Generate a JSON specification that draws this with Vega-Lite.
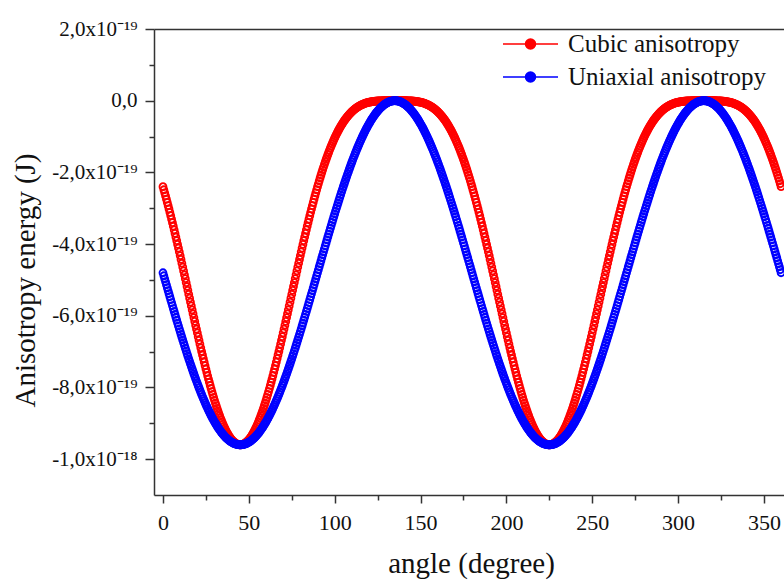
{
"$schema":"https://vega.github.io/schema/vega-lite/v6.json",
"width":630,"height":466,
"autosize":{"type":"none"},
"padding":{"left":154,"top":29,"right":0,"bottom":86},
"background":"white",
"config":{"view":{"stroke":null},"font":"Liberation Serif",
"axis":{"domainColor":"#333","tickColor":"#333","domainWidth":1.5,"tickWidth":1.5,"grid":false,"labelColor":"#111","titleColor":"#111","labelFont":"Liberation Serif","titleFont":"Liberation Serif","titleFontWeight":"normal"}},
"data":{"values":[
{"a":0,"c":-2.4e-19,"u":-4.8e-19},{"a":1,"c":-2.570e-19,"u":-4.968e-19},{"a":2,"c":-2.747e-19,"u":-5.135e-19},{"a":3,"c":-2.928e-19,"u":-5.302e-19},{"a":4,"c":-3.115e-19,"u":-5.468e-19},{"a":5,"c":-3.306e-19,"u":-5.633e-19},{"a":6,"c":-3.502e-19,"u":-5.798e-19},{"a":7,"c":-3.702e-19,"u":-5.961e-19},{"a":8,"c":-3.905e-19,"u":-6.123e-19},{"a":9,"c":-4.112e-19,"u":-6.283e-19},
{"a":10,"c":-4.322e-19,"u":-6.442e-19},{"a":11,"c":-4.535e-19,"u":-6.598e-19},{"a":12,"c":-4.749e-19,"u":-6.752e-19},{"a":13,"c":-4.966e-19,"u":-6.904e-19},{"a":14,"c":-5.183e-19,"u":-7.054e-19},{"a":15,"c":-5.4e-19,"u":-7.2e-19},{"a":16,"c":-5.617e-19,"u":-7.344e-19},{"a":17,"c":-5.835e-19,"u":-7.484e-19},{"a":18,"c":-6.051e-19,"u":-7.621e-19},{"a":19,"c":-6.265e-19,"u":-7.755e-19},
{"a":20,"c":-6.477e-19,"u":-7.885e-19},{"a":21,"c":-6.686e-19,"u":-8.012e-19},{"a":22,"c":-6.893e-19,"u":-8.135e-19},{"a":23,"c":-7.094e-19,"u":-8.253e-19},{"a":24,"c":-7.292e-19,"u":-8.367e-19},{"a":25,"c":-7.485e-19,"u":-8.477e-19},{"a":26,"c":-7.673e-19,"u":-8.582e-19},{"a":27,"c":-7.854e-19,"u":-8.683e-19},{"a":28,"c":-8.029e-19,"u":-8.779e-19},{"a":29,"c":-8.196e-19,"u":-8.870e-19},
{"a":30,"c":-8.357e-19,"u":-8.957e-19},{"a":31,"c":-8.509e-19,"u":-9.038e-19},{"a":32,"c":-8.653e-19,"u":-9.114e-19},{"a":33,"c":-8.788e-19,"u":-9.185e-19},{"a":34,"c":-8.914e-19,"u":-9.251e-19},{"a":35,"c":-9.030e-19,"u":-9.311e-19},{"a":36,"c":-9.136e-19,"u":-9.365e-19},{"a":37,"c":-9.232e-19,"u":-9.414e-19},{"a":38,"c":-9.317e-19,"u":-9.457e-19},{"a":39,"c":-9.391e-19,"u":-9.495e-19},
{"a":40,"c":-9.455e-19,"u":-9.527e-19},{"a":41,"c":-9.507e-19,"u":-9.553e-19},{"a":42,"c":-9.547e-19,"u":-9.574e-19},{"a":43,"c":-9.577e-19,"u":-9.588e-19},{"a":44,"c":-9.594e-19,"u":-9.597e-19},{"a":45,"c":-9.6e-19,"u":-9.6e-19},{"a":46,"c":-9.594e-19,"u":-9.597e-19},{"a":47,"c":-9.577e-19,"u":-9.588e-19},{"a":48,"c":-9.547e-19,"u":-9.574e-19},{"a":49,"c":-9.507e-19,"u":-9.553e-19},
{"a":50,"c":-9.455e-19,"u":-9.527e-19},{"a":51,"c":-9.391e-19,"u":-9.495e-19},{"a":52,"c":-9.317e-19,"u":-9.457e-19},{"a":53,"c":-9.232e-19,"u":-9.414e-19},{"a":54,"c":-9.136e-19,"u":-9.365e-19},{"a":55,"c":-9.030e-19,"u":-9.311e-19},{"a":56,"c":-8.914e-19,"u":-9.251e-19},{"a":57,"c":-8.788e-19,"u":-9.185e-19},{"a":58,"c":-8.653e-19,"u":-9.114e-19},{"a":59,"c":-8.509e-19,"u":-9.038e-19},
{"a":60,"c":-8.357e-19,"u":-8.957e-19},{"a":61,"c":-8.196e-19,"u":-8.870e-19},{"a":62,"c":-8.029e-19,"u":-8.779e-19},{"a":63,"c":-7.854e-19,"u":-8.683e-19},{"a":64,"c":-7.673e-19,"u":-8.582e-19},{"a":65,"c":-7.485e-19,"u":-8.477e-19},{"a":66,"c":-7.292e-19,"u":-8.367e-19},{"a":67,"c":-7.094e-19,"u":-8.253e-19},{"a":68,"c":-6.893e-19,"u":-8.135e-19},{"a":69,"c":-6.686e-19,"u":-8.012e-19},
{"a":70,"c":-6.477e-19,"u":-7.885e-19},{"a":71,"c":-6.265e-19,"u":-7.755e-19},{"a":72,"c":-6.051e-19,"u":-7.621e-19},{"a":73,"c":-5.835e-19,"u":-7.484e-19},{"a":74,"c":-5.617e-19,"u":-7.344e-19},{"a":75,"c":-5.4e-19,"u":-7.2e-19},{"a":76,"c":-5.183e-19,"u":-7.054e-19},{"a":77,"c":-4.966e-19,"u":-6.904e-19},{"a":78,"c":-4.749e-19,"u":-6.752e-19},{"a":79,"c":-4.535e-19,"u":-6.598e-19},
{"a":80,"c":-4.322e-19,"u":-6.442e-19},{"a":81,"c":-4.112e-19,"u":-6.283e-19},{"a":82,"c":-3.905e-19,"u":-6.123e-19},{"a":83,"c":-3.702e-19,"u":-5.961e-19},{"a":84,"c":-3.502e-19,"u":-5.798e-19},{"a":85,"c":-3.306e-19,"u":-5.633e-19},{"a":86,"c":-3.115e-19,"u":-5.468e-19},{"a":87,"c":-2.928e-19,"u":-5.302e-19},{"a":88,"c":-2.747e-19,"u":-5.135e-19},{"a":89,"c":-2.570e-19,"u":-4.968e-19},
{"a":90,"c":-2.4e-19,"u":-4.8e-19},{"a":91,"c":-2.235e-19,"u":-4.632e-19},{"a":92,"c":-2.077e-19,"u":-4.465e-19},{"a":93,"c":-1.925e-19,"u":-4.298e-19},{"a":94,"c":-1.778e-19,"u":-4.132e-19},{"a":95,"c":-1.639e-19,"u":-3.967e-19},{"a":96,"c":-1.506e-19,"u":-3.802e-19},{"a":97,"c":-1.379e-19,"u":-3.639e-19},{"a":98,"c":-1.259e-19,"u":-3.477e-19},{"a":99,"c":-1.146e-19,"u":-3.317e-19},
{"a":100,"c":-1.039e-19,"u":-3.158e-19},{"a":101,"c":-0.939e-19,"u":-3.002e-19},{"a":102,"c":-0.845e-19,"u":-2.848e-19},{"a":103,"c":-0.757e-19,"u":-2.696e-19},{"a":104,"c":-0.675e-19,"u":-2.546e-19},{"a":105,"c":-0.6e-19,"u":-2.4e-19},{"a":106,"c":-0.530e-19,"u":-2.256e-19},{"a":107,"c":-0.466e-19,"u":-2.116e-19},{"a":108,"c":-0.408e-19,"u":-1.979e-19},{"a":109,"c":-0.354e-19,"u":-1.845e-19},
{"a":110,"c":-0.306e-19,"u":-1.715e-19},{"a":111,"c":-0.263e-19,"u":-1.588e-19},{"a":112,"c":-0.224e-19,"u":-1.465e-19},{"a":113,"c":-0.189e-19,"u":-1.347e-19},{"a":114,"c":-0.158e-19,"u":-1.233e-19},{"a":115,"c":-0.131e-19,"u":-1.123e-19},{"a":116,"c":-0.108e-19,"u":-1.018e-19},{"a":117,"c":-0.088e-19,"u":-0.917e-19},{"a":118,"c":-0.070e-19,"u":-0.821e-19},{"a":119,"c":-0.056e-19,"u":-0.730e-19},
{"a":120,"c":-0.043e-19,"u":-0.643e-19},{"a":121,"c":-0.033e-19,"u":-0.562e-19},{"a":122,"c":-0.025e-19,"u":-0.486e-19},{"a":123,"c":-0.018e-19,"u":-0.415e-19},{"a":124,"c":-0.013e-19,"u":-0.349e-19},{"a":125,"c":-0.009e-19,"u":-0.289e-19},{"a":126,"c":-0.006e-19,"u":-0.235e-19},{"a":127,"c":-0.004e-19,"u":-0.186e-19},{"a":128,"c":-0.002e-19,"u":-0.143e-19},{"a":129,"c":-0.001e-19,"u":-0.105e-19},
{"a":130,"c":-0.001e-19,"u":-0.073e-19},{"a":131,"c":0,"u":-0.047e-19},{"a":132,"c":0,"u":-0.026e-19},{"a":133,"c":0,"u":-0.012e-19},{"a":134,"c":0,"u":-0.003e-19},{"a":135,"c":0,"u":0},{"a":136,"c":0,"u":-0.003e-19},{"a":137,"c":0,"u":-0.012e-19},{"a":138,"c":0,"u":-0.026e-19},{"a":139,"c":0,"u":-0.047e-19},
{"a":140,"c":-0.001e-19,"u":-0.073e-19},{"a":141,"c":-0.001e-19,"u":-0.105e-19},{"a":142,"c":-0.002e-19,"u":-0.143e-19},{"a":143,"c":-0.004e-19,"u":-0.186e-19},{"a":144,"c":-0.006e-19,"u":-0.235e-19},{"a":145,"c":-0.009e-19,"u":-0.289e-19},{"a":146,"c":-0.013e-19,"u":-0.349e-19},{"a":147,"c":-0.018e-19,"u":-0.415e-19},{"a":148,"c":-0.025e-19,"u":-0.486e-19},{"a":149,"c":-0.033e-19,"u":-0.562e-19},
{"a":150,"c":-0.043e-19,"u":-0.643e-19},{"a":151,"c":-0.056e-19,"u":-0.730e-19},{"a":152,"c":-0.070e-19,"u":-0.821e-19},{"a":153,"c":-0.088e-19,"u":-0.917e-19},{"a":154,"c":-0.108e-19,"u":-1.018e-19},{"a":155,"c":-0.131e-19,"u":-1.123e-19},{"a":156,"c":-0.158e-19,"u":-1.233e-19},{"a":157,"c":-0.189e-19,"u":-1.347e-19},{"a":158,"c":-0.224e-19,"u":-1.465e-19},{"a":159,"c":-0.263e-19,"u":-1.588e-19},
{"a":160,"c":-0.306e-19,"u":-1.715e-19},{"a":161,"c":-0.354e-19,"u":-1.845e-19},{"a":162,"c":-0.408e-19,"u":-1.979e-19},{"a":163,"c":-0.466e-19,"u":-2.116e-19},{"a":164,"c":-0.530e-19,"u":-2.256e-19},{"a":165,"c":-0.6e-19,"u":-2.4e-19},{"a":166,"c":-0.675e-19,"u":-2.546e-19},{"a":167,"c":-0.757e-19,"u":-2.696e-19},{"a":168,"c":-0.845e-19,"u":-2.848e-19},{"a":169,"c":-0.939e-19,"u":-3.002e-19},
{"a":170,"c":-1.039e-19,"u":-3.158e-19},{"a":171,"c":-1.146e-19,"u":-3.317e-19},{"a":172,"c":-1.259e-19,"u":-3.477e-19},{"a":173,"c":-1.379e-19,"u":-3.639e-19},{"a":174,"c":-1.506e-19,"u":-3.802e-19},{"a":175,"c":-1.639e-19,"u":-3.967e-19},{"a":176,"c":-1.778e-19,"u":-4.132e-19},{"a":177,"c":-1.925e-19,"u":-4.298e-19},{"a":178,"c":-2.077e-19,"u":-4.465e-19},{"a":179,"c":-2.235e-19,"u":-4.632e-19},
{"a":180,"c":-2.4e-19,"u":-4.8e-19},{"a":181,"c":-2.570e-19,"u":-4.968e-19},{"a":182,"c":-2.747e-19,"u":-5.135e-19},{"a":183,"c":-2.928e-19,"u":-5.302e-19},{"a":184,"c":-3.115e-19,"u":-5.468e-19},{"a":185,"c":-3.306e-19,"u":-5.633e-19},{"a":186,"c":-3.502e-19,"u":-5.798e-19},{"a":187,"c":-3.702e-19,"u":-5.961e-19},{"a":188,"c":-3.905e-19,"u":-6.123e-19},{"a":189,"c":-4.112e-19,"u":-6.283e-19},
{"a":190,"c":-4.322e-19,"u":-6.442e-19},{"a":191,"c":-4.535e-19,"u":-6.598e-19},{"a":192,"c":-4.749e-19,"u":-6.752e-19},{"a":193,"c":-4.966e-19,"u":-6.904e-19},{"a":194,"c":-5.183e-19,"u":-7.054e-19},{"a":195,"c":-5.4e-19,"u":-7.2e-19},{"a":196,"c":-5.617e-19,"u":-7.344e-19},{"a":197,"c":-5.835e-19,"u":-7.484e-19},{"a":198,"c":-6.051e-19,"u":-7.621e-19},{"a":199,"c":-6.265e-19,"u":-7.755e-19},
{"a":200,"c":-6.477e-19,"u":-7.885e-19},{"a":201,"c":-6.686e-19,"u":-8.012e-19},{"a":202,"c":-6.893e-19,"u":-8.135e-19},{"a":203,"c":-7.094e-19,"u":-8.253e-19},{"a":204,"c":-7.292e-19,"u":-8.367e-19},{"a":205,"c":-7.485e-19,"u":-8.477e-19},{"a":206,"c":-7.673e-19,"u":-8.582e-19},{"a":207,"c":-7.854e-19,"u":-8.683e-19},{"a":208,"c":-8.029e-19,"u":-8.779e-19},{"a":209,"c":-8.196e-19,"u":-8.870e-19},
{"a":210,"c":-8.357e-19,"u":-8.957e-19},{"a":211,"c":-8.509e-19,"u":-9.038e-19},{"a":212,"c":-8.653e-19,"u":-9.114e-19},{"a":213,"c":-8.788e-19,"u":-9.185e-19},{"a":214,"c":-8.914e-19,"u":-9.251e-19},{"a":215,"c":-9.030e-19,"u":-9.311e-19},{"a":216,"c":-9.136e-19,"u":-9.365e-19},{"a":217,"c":-9.232e-19,"u":-9.414e-19},{"a":218,"c":-9.317e-19,"u":-9.457e-19},{"a":219,"c":-9.391e-19,"u":-9.495e-19},
{"a":220,"c":-9.455e-19,"u":-9.527e-19},{"a":221,"c":-9.507e-19,"u":-9.553e-19},{"a":222,"c":-9.547e-19,"u":-9.574e-19},{"a":223,"c":-9.577e-19,"u":-9.588e-19},{"a":224,"c":-9.594e-19,"u":-9.597e-19},{"a":225,"c":-9.6e-19,"u":-9.6e-19},{"a":226,"c":-9.594e-19,"u":-9.597e-19},{"a":227,"c":-9.577e-19,"u":-9.588e-19},{"a":228,"c":-9.547e-19,"u":-9.574e-19},{"a":229,"c":-9.507e-19,"u":-9.553e-19},
{"a":230,"c":-9.455e-19,"u":-9.527e-19},{"a":231,"c":-9.391e-19,"u":-9.495e-19},{"a":232,"c":-9.317e-19,"u":-9.457e-19},{"a":233,"c":-9.232e-19,"u":-9.414e-19},{"a":234,"c":-9.136e-19,"u":-9.365e-19},{"a":235,"c":-9.030e-19,"u":-9.311e-19},{"a":236,"c":-8.914e-19,"u":-9.251e-19},{"a":237,"c":-8.788e-19,"u":-9.185e-19},{"a":238,"c":-8.653e-19,"u":-9.114e-19},{"a":239,"c":-8.509e-19,"u":-9.038e-19},
{"a":240,"c":-8.357e-19,"u":-8.957e-19},{"a":241,"c":-8.196e-19,"u":-8.870e-19},{"a":242,"c":-8.029e-19,"u":-8.779e-19},{"a":243,"c":-7.854e-19,"u":-8.683e-19},{"a":244,"c":-7.673e-19,"u":-8.582e-19},{"a":245,"c":-7.485e-19,"u":-8.477e-19},{"a":246,"c":-7.292e-19,"u":-8.367e-19},{"a":247,"c":-7.094e-19,"u":-8.253e-19},{"a":248,"c":-6.893e-19,"u":-8.135e-19},{"a":249,"c":-6.686e-19,"u":-8.012e-19},
{"a":250,"c":-6.477e-19,"u":-7.885e-19},{"a":251,"c":-6.265e-19,"u":-7.755e-19},{"a":252,"c":-6.051e-19,"u":-7.621e-19},{"a":253,"c":-5.835e-19,"u":-7.484e-19},{"a":254,"c":-5.617e-19,"u":-7.344e-19},{"a":255,"c":-5.4e-19,"u":-7.2e-19},{"a":256,"c":-5.183e-19,"u":-7.054e-19},{"a":257,"c":-4.966e-19,"u":-6.904e-19},{"a":258,"c":-4.749e-19,"u":-6.752e-19},{"a":259,"c":-4.535e-19,"u":-6.598e-19},
{"a":260,"c":-4.322e-19,"u":-6.442e-19},{"a":261,"c":-4.112e-19,"u":-6.283e-19},{"a":262,"c":-3.905e-19,"u":-6.123e-19},{"a":263,"c":-3.702e-19,"u":-5.961e-19},{"a":264,"c":-3.502e-19,"u":-5.798e-19},{"a":265,"c":-3.306e-19,"u":-5.633e-19},{"a":266,"c":-3.115e-19,"u":-5.468e-19},{"a":267,"c":-2.928e-19,"u":-5.302e-19},{"a":268,"c":-2.747e-19,"u":-5.135e-19},{"a":269,"c":-2.570e-19,"u":-4.968e-19},
{"a":270,"c":-2.4e-19,"u":-4.8e-19},{"a":271,"c":-2.235e-19,"u":-4.632e-19},{"a":272,"c":-2.077e-19,"u":-4.465e-19},{"a":273,"c":-1.925e-19,"u":-4.298e-19},{"a":274,"c":-1.778e-19,"u":-4.132e-19},{"a":275,"c":-1.639e-19,"u":-3.967e-19},{"a":276,"c":-1.506e-19,"u":-3.802e-19},{"a":277,"c":-1.379e-19,"u":-3.639e-19},{"a":278,"c":-1.259e-19,"u":-3.477e-19},{"a":279,"c":-1.146e-19,"u":-3.317e-19},
{"a":280,"c":-1.039e-19,"u":-3.158e-19},{"a":281,"c":-0.939e-19,"u":-3.002e-19},{"a":282,"c":-0.845e-19,"u":-2.848e-19},{"a":283,"c":-0.757e-19,"u":-2.696e-19},{"a":284,"c":-0.675e-19,"u":-2.546e-19},{"a":285,"c":-0.6e-19,"u":-2.4e-19},{"a":286,"c":-0.530e-19,"u":-2.256e-19},{"a":287,"c":-0.466e-19,"u":-2.116e-19},{"a":288,"c":-0.408e-19,"u":-1.979e-19},{"a":289,"c":-0.354e-19,"u":-1.845e-19},
{"a":290,"c":-0.306e-19,"u":-1.715e-19},{"a":291,"c":-0.263e-19,"u":-1.588e-19},{"a":292,"c":-0.224e-19,"u":-1.465e-19},{"a":293,"c":-0.189e-19,"u":-1.347e-19},{"a":294,"c":-0.158e-19,"u":-1.233e-19},{"a":295,"c":-0.131e-19,"u":-1.123e-19},{"a":296,"c":-0.108e-19,"u":-1.018e-19},{"a":297,"c":-0.088e-19,"u":-0.917e-19},{"a":298,"c":-0.070e-19,"u":-0.821e-19},{"a":299,"c":-0.056e-19,"u":-0.730e-19},
{"a":300,"c":-0.043e-19,"u":-0.643e-19},{"a":301,"c":-0.033e-19,"u":-0.562e-19},{"a":302,"c":-0.025e-19,"u":-0.486e-19},{"a":303,"c":-0.018e-19,"u":-0.415e-19},{"a":304,"c":-0.013e-19,"u":-0.349e-19},{"a":305,"c":-0.009e-19,"u":-0.289e-19},{"a":306,"c":-0.006e-19,"u":-0.235e-19},{"a":307,"c":-0.004e-19,"u":-0.186e-19},{"a":308,"c":-0.002e-19,"u":-0.143e-19},{"a":309,"c":-0.001e-19,"u":-0.105e-19},
{"a":310,"c":-0.001e-19,"u":-0.073e-19},{"a":311,"c":0,"u":-0.047e-19},{"a":312,"c":0,"u":-0.026e-19},{"a":313,"c":0,"u":-0.012e-19},{"a":314,"c":0,"u":-0.003e-19},{"a":315,"c":0,"u":0},{"a":316,"c":0,"u":-0.003e-19},{"a":317,"c":0,"u":-0.012e-19},{"a":318,"c":0,"u":-0.026e-19},{"a":319,"c":0,"u":-0.047e-19},
{"a":320,"c":-0.001e-19,"u":-0.073e-19},{"a":321,"c":-0.001e-19,"u":-0.105e-19},{"a":322,"c":-0.002e-19,"u":-0.143e-19},{"a":323,"c":-0.004e-19,"u":-0.186e-19},{"a":324,"c":-0.006e-19,"u":-0.235e-19},{"a":325,"c":-0.009e-19,"u":-0.289e-19},{"a":326,"c":-0.013e-19,"u":-0.349e-19},{"a":327,"c":-0.018e-19,"u":-0.415e-19},{"a":328,"c":-0.025e-19,"u":-0.486e-19},{"a":329,"c":-0.033e-19,"u":-0.562e-19},
{"a":330,"c":-0.043e-19,"u":-0.643e-19},{"a":331,"c":-0.056e-19,"u":-0.730e-19},{"a":332,"c":-0.070e-19,"u":-0.821e-19},{"a":333,"c":-0.088e-19,"u":-0.917e-19},{"a":334,"c":-0.108e-19,"u":-1.018e-19},{"a":335,"c":-0.131e-19,"u":-1.123e-19},{"a":336,"c":-0.158e-19,"u":-1.233e-19},{"a":337,"c":-0.189e-19,"u":-1.347e-19},{"a":338,"c":-0.224e-19,"u":-1.465e-19},{"a":339,"c":-0.263e-19,"u":-1.588e-19},
{"a":340,"c":-0.306e-19,"u":-1.715e-19},{"a":341,"c":-0.354e-19,"u":-1.845e-19},{"a":342,"c":-0.408e-19,"u":-1.979e-19},{"a":343,"c":-0.466e-19,"u":-2.116e-19},{"a":344,"c":-0.530e-19,"u":-2.256e-19},{"a":345,"c":-0.6e-19,"u":-2.4e-19},{"a":346,"c":-0.675e-19,"u":-2.546e-19},{"a":347,"c":-0.757e-19,"u":-2.696e-19},{"a":348,"c":-0.845e-19,"u":-2.848e-19},{"a":349,"c":-0.939e-19,"u":-3.002e-19},
{"a":350,"c":-1.039e-19,"u":-3.158e-19},{"a":351,"c":-1.146e-19,"u":-3.317e-19},{"a":352,"c":-1.259e-19,"u":-3.477e-19},{"a":353,"c":-1.379e-19,"u":-3.639e-19},{"a":354,"c":-1.506e-19,"u":-3.802e-19},{"a":355,"c":-1.639e-19,"u":-3.967e-19},{"a":356,"c":-1.778e-19,"u":-4.132e-19},{"a":357,"c":-1.925e-19,"u":-4.298e-19},{"a":358,"c":-2.077e-19,"u":-4.465e-19},{"a":359,"c":-2.235e-19,"u":-4.632e-19},
{"a":360,"c":-2.4e-19,"u":-4.8e-19},
{"a":0.5,"c":-2.485e-19,"u":-4.884e-19},{"a":1.5,"c":-2.658e-19,"u":-5.051e-19},{"a":2.5,"c":-2.837e-19,"u":-5.219e-19},{"a":3.5,"c":-3.021e-19,"u":-5.385e-19},{"a":4.5,"c":-3.209e-19,"u":-5.551e-19},{"a":5.5,"c":-3.403e-19,"u":-5.716e-19},{"a":6.5,"c":-3.602e-19,"u":-5.880e-19},{"a":7.5,"c":-3.803e-19,"u":-6.042e-19},{"a":8.5,"c":-4.009e-19,"u":-6.204e-19},{"a":9.5,"c":-4.217e-19,"u":-6.363e-19},
{"a":10.5,"c":-4.429e-19,"u":-6.520e-19},{"a":11.5,"c":-4.642e-19,"u":-6.675e-19},{"a":12.5,"c":-4.857e-19,"u":-6.828e-19},{"a":13.5,"c":-5.074e-19,"u":-6.979e-19},{"a":14.5,"c":-5.291e-19,"u":-7.127e-19},{"a":15.5,"c":-5.509e-19,"u":-7.272e-19},{"a":16.5,"c":-5.726e-19,"u":-7.414e-19},{"a":17.5,"c":-5.943e-19,"u":-7.553e-19},{"a":18.5,"c":-6.158e-19,"u":-7.689e-19},{"a":19.5,"c":-6.371e-19,"u":-7.821e-19},
{"a":20.5,"c":-6.582e-19,"u":-7.949e-19},{"a":21.5,"c":-6.790e-19,"u":-8.074e-19},{"a":22.5,"c":-6.994e-19,"u":-8.194e-19},{"a":23.5,"c":-7.195e-19,"u":-8.311e-19},{"a":24.5,"c":-7.390e-19,"u":-8.423e-19},{"a":25.5,"c":-7.579e-19,"u":-8.530e-19},{"a":26.5,"c":-7.764e-19,"u":-8.633e-19},{"a":27.5,"c":-7.943e-19,"u":-8.732e-19},{"a":28.5,"c":-8.114e-19,"u":-8.826e-19},{"a":29.5,"c":-8.278e-19,"u":-8.915e-19},
{"a":30.5,"c":-8.434e-19,"u":-8.998e-19},{"a":31.5,"c":-8.582e-19,"u":-9.077e-19},{"a":32.5,"c":-8.722e-19,"u":-9.150e-19},{"a":33.5,"c":-8.852e-19,"u":-9.218e-19},{"a":34.5,"c":-8.973e-19,"u":-9.281e-19},{"a":35.5,"c":-9.084e-19,"u":-9.338e-19},{"a":36.5,"c":-9.185e-19,"u":-9.390e-19},{"a":37.5,"c":-9.275e-19,"u":-9.436e-19},{"a":38.5,"c":-9.356e-19,"u":-9.477e-19},{"a":39.5,"c":-9.424e-19,"u":-9.512e-19},
{"a":40.5,"c":-9.482e-19,"u":-9.541e-19},{"a":41.5,"c":-9.528e-19,"u":-9.564e-19},{"a":42.5,"c":-9.564e-19,"u":-9.582e-19},{"a":43.5,"c":-9.587e-19,"u":-9.593e-19},{"a":44.5,"c":-9.598e-19,"u":-9.599e-19},{"a":45.5,"c":-9.598e-19,"u":-9.599e-19},{"a":46.5,"c":-9.587e-19,"u":-9.593e-19},{"a":47.5,"c":-9.564e-19,"u":-9.582e-19},{"a":48.5,"c":-9.528e-19,"u":-9.564e-19},{"a":49.5,"c":-9.482e-19,"u":-9.541e-19},
{"a":50.5,"c":-9.424e-19,"u":-9.512e-19},{"a":51.5,"c":-9.356e-19,"u":-9.477e-19},{"a":52.5,"c":-9.275e-19,"u":-9.436e-19},{"a":53.5,"c":-9.185e-19,"u":-9.390e-19},{"a":54.5,"c":-9.084e-19,"u":-9.338e-19},{"a":55.5,"c":-8.973e-19,"u":-9.281e-19},{"a":56.5,"c":-8.852e-19,"u":-9.218e-19},{"a":57.5,"c":-8.722e-19,"u":-9.150e-19},{"a":58.5,"c":-8.582e-19,"u":-9.077e-19},{"a":59.5,"c":-8.434e-19,"u":-8.998e-19},
{"a":60.5,"c":-8.278e-19,"u":-8.915e-19},{"a":61.5,"c":-8.114e-19,"u":-8.826e-19},{"a":62.5,"c":-7.943e-19,"u":-8.732e-19},{"a":63.5,"c":-7.764e-19,"u":-8.633e-19},{"a":64.5,"c":-7.579e-19,"u":-8.530e-19},{"a":65.5,"c":-7.390e-19,"u":-8.423e-19},{"a":66.5,"c":-7.195e-19,"u":-8.311e-19},{"a":67.5,"c":-6.994e-19,"u":-8.194e-19},{"a":68.5,"c":-6.790e-19,"u":-8.074e-19},{"a":69.5,"c":-6.582e-19,"u":-7.949e-19},
{"a":70.5,"c":-6.371e-19,"u":-7.821e-19},{"a":71.5,"c":-6.158e-19,"u":-7.689e-19},{"a":72.5,"c":-5.943e-19,"u":-7.553e-19},{"a":73.5,"c":-5.726e-19,"u":-7.414e-19},{"a":74.5,"c":-5.509e-19,"u":-7.272e-19},{"a":75.5,"c":-5.291e-19,"u":-7.127e-19},{"a":76.5,"c":-5.074e-19,"u":-6.979e-19},{"a":77.5,"c":-4.857e-19,"u":-6.828e-19},{"a":78.5,"c":-4.642e-19,"u":-6.675e-19},{"a":79.5,"c":-4.429e-19,"u":-6.520e-19},
{"a":80.5,"c":-4.217e-19,"u":-6.363e-19},{"a":81.5,"c":-4.009e-19,"u":-6.204e-19},{"a":82.5,"c":-3.803e-19,"u":-6.042e-19},{"a":83.5,"c":-3.602e-19,"u":-5.880e-19},{"a":84.5,"c":-3.403e-19,"u":-5.716e-19},{"a":85.5,"c":-3.209e-19,"u":-5.551e-19},{"a":86.5,"c":-3.021e-19,"u":-5.385e-19},{"a":87.5,"c":-2.837e-19,"u":-5.219e-19},{"a":88.5,"c":-2.658e-19,"u":-5.051e-19},{"a":89.5,"c":-2.485e-19,"u":-4.884e-19},
{"a":90.5,"c":-2.317e-19,"u":-4.716e-19},{"a":91.5,"c":-2.156e-19,"u":-4.549e-19},{"a":92.5,"c":-2.000e-19,"u":-4.381e-19},{"a":93.5,"c":-1.851e-19,"u":-4.215e-19},{"a":94.5,"c":-1.708e-19,"u":-4.049e-19},{"a":95.5,"c":-1.572e-19,"u":-3.884e-19},{"a":96.5,"c":-1.442e-19,"u":-3.720e-19},{"a":97.5,"c":-1.319e-19,"u":-3.558e-19},{"a":98.5,"c":-1.202e-19,"u":-3.396e-19},{"a":99.5,"c":-1.092e-19,"u":-3.237e-19},
{"a":100.5,"c":-0.988e-19,"u":-3.080e-19},{"a":101.5,"c":-0.891e-19,"u":-2.925e-19},{"a":102.5,"c":-0.800e-19,"u":-2.772e-19},{"a":103.5,"c":-0.715e-19,"u":-2.621e-19},{"a":104.5,"c":-0.637e-19,"u":-2.473e-19},{"a":105.5,"c":-0.565e-19,"u":-2.328e-19},{"a":106.5,"c":-0.498e-19,"u":-2.186e-19},{"a":107.5,"c":-0.436e-19,"u":-2.047e-19},{"a":108.5,"c":-0.381e-19,"u":-1.911e-19},{"a":109.5,"c":-0.330e-19,"u":-1.779e-19},
{"a":110.5,"c":-0.284e-19,"u":-1.651e-19},{"a":111.5,"c":-0.243e-19,"u":-1.526e-19},{"a":112.5,"c":-0.206e-19,"u":-1.406e-19},{"a":113.5,"c":-0.173e-19,"u":-1.289e-19},{"a":114.5,"c":-0.144e-19,"u":-1.177e-19},{"a":115.5,"c":-0.119e-19,"u":-1.070e-19},{"a":116.5,"c":-0.097e-19,"u":-0.967e-19},{"a":117.5,"c":-0.078e-19,"u":-0.868e-19},{"a":118.5,"c":-0.062e-19,"u":-0.774e-19},{"a":119.5,"c":-0.049e-19,"u":-0.685e-19},
{"a":120.5,"c":-0.038e-19,"u":-0.602e-19},{"a":121.5,"c":-0.029e-19,"u":-0.523e-19},{"a":122.5,"c":-0.021e-19,"u":-0.450e-19},{"a":123.5,"c":-0.015e-19,"u":-0.382e-19},{"a":124.5,"c":-0.011e-19,"u":-0.319e-19},{"a":125.5,"c":-0.007e-19,"u":-0.262e-19},{"a":126.5,"c":-0.005e-19,"u":-0.210e-19},{"a":127.5,"c":-0.003e-19,"u":-0.164e-19},{"a":128.5,"c":-0.002e-19,"u":-0.123e-19},{"a":129.5,"c":-0.001e-19,"u":-0.088e-19},
{"a":130.5,"c":0,"u":-0.059e-19},{"a":131.5,"c":0,"u":-0.036e-19},{"a":132.5,"c":0,"u":-0.018e-19},{"a":133.5,"c":0,"u":-0.007e-19},{"a":134.5,"c":0,"u":-0.001e-19},{"a":135.5,"c":0,"u":-0.001e-19},{"a":136.5,"c":0,"u":-0.007e-19},{"a":137.5,"c":0,"u":-0.018e-19},{"a":138.5,"c":0,"u":-0.036e-19},{"a":139.5,"c":0,"u":-0.059e-19},
{"a":140.5,"c":-0.001e-19,"u":-0.088e-19},{"a":141.5,"c":-0.002e-19,"u":-0.123e-19},{"a":142.5,"c":-0.003e-19,"u":-0.164e-19},{"a":143.5,"c":-0.005e-19,"u":-0.210e-19},{"a":144.5,"c":-0.007e-19,"u":-0.262e-19},{"a":145.5,"c":-0.011e-19,"u":-0.319e-19},{"a":146.5,"c":-0.015e-19,"u":-0.382e-19},{"a":147.5,"c":-0.021e-19,"u":-0.450e-19},{"a":148.5,"c":-0.029e-19,"u":-0.523e-19},{"a":149.5,"c":-0.038e-19,"u":-0.602e-19},
{"a":150.5,"c":-0.049e-19,"u":-0.685e-19},{"a":151.5,"c":-0.062e-19,"u":-0.774e-19},{"a":152.5,"c":-0.078e-19,"u":-0.868e-19},{"a":153.5,"c":-0.097e-19,"u":-0.967e-19},{"a":154.5,"c":-0.119e-19,"u":-1.070e-19},{"a":155.5,"c":-0.144e-19,"u":-1.177e-19},{"a":156.5,"c":-0.173e-19,"u":-1.289e-19},{"a":157.5,"c":-0.206e-19,"u":-1.406e-19},{"a":158.5,"c":-0.243e-19,"u":-1.526e-19},{"a":159.5,"c":-0.284e-19,"u":-1.651e-19},
{"a":160.5,"c":-0.330e-19,"u":-1.779e-19},{"a":161.5,"c":-0.381e-19,"u":-1.911e-19},{"a":162.5,"c":-0.436e-19,"u":-2.047e-19},{"a":163.5,"c":-0.498e-19,"u":-2.186e-19},{"a":164.5,"c":-0.565e-19,"u":-2.328e-19},{"a":165.5,"c":-0.637e-19,"u":-2.473e-19},{"a":166.5,"c":-0.715e-19,"u":-2.621e-19},{"a":167.5,"c":-0.800e-19,"u":-2.772e-19},{"a":168.5,"c":-0.891e-19,"u":-2.925e-19},{"a":169.5,"c":-0.988e-19,"u":-3.080e-19},
{"a":170.5,"c":-1.092e-19,"u":-3.237e-19},{"a":171.5,"c":-1.202e-19,"u":-3.396e-19},{"a":172.5,"c":-1.319e-19,"u":-3.558e-19},{"a":173.5,"c":-1.442e-19,"u":-3.720e-19},{"a":174.5,"c":-1.572e-19,"u":-3.884e-19},{"a":175.5,"c":-1.708e-19,"u":-4.049e-19},{"a":176.5,"c":-1.851e-19,"u":-4.215e-19},{"a":177.5,"c":-2.000e-19,"u":-4.381e-19},{"a":178.5,"c":-2.156e-19,"u":-4.549e-19},{"a":179.5,"c":-2.317e-19,"u":-4.716e-19},
{"a":180.5,"c":-2.485e-19,"u":-4.884e-19},{"a":181.5,"c":-2.658e-19,"u":-5.051e-19},{"a":182.5,"c":-2.837e-19,"u":-5.219e-19},{"a":183.5,"c":-3.021e-19,"u":-5.385e-19},{"a":184.5,"c":-3.209e-19,"u":-5.551e-19},{"a":185.5,"c":-3.403e-19,"u":-5.716e-19},{"a":186.5,"c":-3.602e-19,"u":-5.880e-19},{"a":187.5,"c":-3.803e-19,"u":-6.042e-19},{"a":188.5,"c":-4.009e-19,"u":-6.204e-19},{"a":189.5,"c":-4.217e-19,"u":-6.363e-19},
{"a":190.5,"c":-4.429e-19,"u":-6.520e-19},{"a":191.5,"c":-4.642e-19,"u":-6.675e-19},{"a":192.5,"c":-4.857e-19,"u":-6.828e-19},{"a":193.5,"c":-5.074e-19,"u":-6.979e-19},{"a":194.5,"c":-5.291e-19,"u":-7.127e-19},{"a":195.5,"c":-5.509e-19,"u":-7.272e-19},{"a":196.5,"c":-5.726e-19,"u":-7.414e-19},{"a":197.5,"c":-5.943e-19,"u":-7.553e-19},{"a":198.5,"c":-6.158e-19,"u":-7.689e-19},{"a":199.5,"c":-6.371e-19,"u":-7.821e-19},
{"a":200.5,"c":-6.582e-19,"u":-7.949e-19},{"a":201.5,"c":-6.790e-19,"u":-8.074e-19},{"a":202.5,"c":-6.994e-19,"u":-8.194e-19},{"a":203.5,"c":-7.195e-19,"u":-8.311e-19},{"a":204.5,"c":-7.390e-19,"u":-8.423e-19},{"a":205.5,"c":-7.579e-19,"u":-8.530e-19},{"a":206.5,"c":-7.764e-19,"u":-8.633e-19},{"a":207.5,"c":-7.943e-19,"u":-8.732e-19},{"a":208.5,"c":-8.114e-19,"u":-8.826e-19},{"a":209.5,"c":-8.278e-19,"u":-8.915e-19},
{"a":210.5,"c":-8.434e-19,"u":-8.998e-19},{"a":211.5,"c":-8.582e-19,"u":-9.077e-19},{"a":212.5,"c":-8.722e-19,"u":-9.150e-19},{"a":213.5,"c":-8.852e-19,"u":-9.218e-19},{"a":214.5,"c":-8.973e-19,"u":-9.281e-19},{"a":215.5,"c":-9.084e-19,"u":-9.338e-19},{"a":216.5,"c":-9.185e-19,"u":-9.390e-19},{"a":217.5,"c":-9.275e-19,"u":-9.436e-19},{"a":218.5,"c":-9.356e-19,"u":-9.477e-19},{"a":219.5,"c":-9.424e-19,"u":-9.512e-19},
{"a":220.5,"c":-9.482e-19,"u":-9.541e-19},{"a":221.5,"c":-9.528e-19,"u":-9.564e-19},{"a":222.5,"c":-9.564e-19,"u":-9.582e-19},{"a":223.5,"c":-9.587e-19,"u":-9.593e-19},{"a":224.5,"c":-9.598e-19,"u":-9.599e-19},{"a":225.5,"c":-9.598e-19,"u":-9.599e-19},{"a":226.5,"c":-9.587e-19,"u":-9.593e-19},{"a":227.5,"c":-9.564e-19,"u":-9.582e-19},{"a":228.5,"c":-9.528e-19,"u":-9.564e-19},{"a":229.5,"c":-9.482e-19,"u":-9.541e-19},
{"a":230.5,"c":-9.424e-19,"u":-9.512e-19},{"a":231.5,"c":-9.356e-19,"u":-9.477e-19},{"a":232.5,"c":-9.275e-19,"u":-9.436e-19},{"a":233.5,"c":-9.185e-19,"u":-9.390e-19},{"a":234.5,"c":-9.084e-19,"u":-9.338e-19},{"a":235.5,"c":-8.973e-19,"u":-9.281e-19},{"a":236.5,"c":-8.852e-19,"u":-9.218e-19},{"a":237.5,"c":-8.722e-19,"u":-9.150e-19},{"a":238.5,"c":-8.582e-19,"u":-9.077e-19},{"a":239.5,"c":-8.434e-19,"u":-8.998e-19},
{"a":240.5,"c":-8.278e-19,"u":-8.915e-19},{"a":241.5,"c":-8.114e-19,"u":-8.826e-19},{"a":242.5,"c":-7.943e-19,"u":-8.732e-19},{"a":243.5,"c":-7.764e-19,"u":-8.633e-19},{"a":244.5,"c":-7.579e-19,"u":-8.530e-19},{"a":245.5,"c":-7.390e-19,"u":-8.423e-19},{"a":246.5,"c":-7.195e-19,"u":-8.311e-19},{"a":247.5,"c":-6.994e-19,"u":-8.194e-19},{"a":248.5,"c":-6.790e-19,"u":-8.074e-19},{"a":249.5,"c":-6.582e-19,"u":-7.949e-19},
{"a":250.5,"c":-6.371e-19,"u":-7.821e-19},{"a":251.5,"c":-6.158e-19,"u":-7.689e-19},{"a":252.5,"c":-5.943e-19,"u":-7.553e-19},{"a":253.5,"c":-5.726e-19,"u":-7.414e-19},{"a":254.5,"c":-5.509e-19,"u":-7.272e-19},{"a":255.5,"c":-5.291e-19,"u":-7.127e-19},{"a":256.5,"c":-5.074e-19,"u":-6.979e-19},{"a":257.5,"c":-4.857e-19,"u":-6.828e-19},{"a":258.5,"c":-4.642e-19,"u":-6.675e-19},{"a":259.5,"c":-4.429e-19,"u":-6.520e-19},
{"a":260.5,"c":-4.217e-19,"u":-6.363e-19},{"a":261.5,"c":-4.009e-19,"u":-6.204e-19},{"a":262.5,"c":-3.803e-19,"u":-6.042e-19},{"a":263.5,"c":-3.602e-19,"u":-5.880e-19},{"a":264.5,"c":-3.403e-19,"u":-5.716e-19},{"a":265.5,"c":-3.209e-19,"u":-5.551e-19},{"a":266.5,"c":-3.021e-19,"u":-5.385e-19},{"a":267.5,"c":-2.837e-19,"u":-5.219e-19},{"a":268.5,"c":-2.658e-19,"u":-5.051e-19},{"a":269.5,"c":-2.485e-19,"u":-4.884e-19},
{"a":270.5,"c":-2.317e-19,"u":-4.716e-19},{"a":271.5,"c":-2.156e-19,"u":-4.549e-19},{"a":272.5,"c":-2.000e-19,"u":-4.381e-19},{"a":273.5,"c":-1.851e-19,"u":-4.215e-19},{"a":274.5,"c":-1.708e-19,"u":-4.049e-19},{"a":275.5,"c":-1.572e-19,"u":-3.884e-19},{"a":276.5,"c":-1.442e-19,"u":-3.720e-19},{"a":277.5,"c":-1.319e-19,"u":-3.558e-19},{"a":278.5,"c":-1.202e-19,"u":-3.396e-19},{"a":279.5,"c":-1.092e-19,"u":-3.237e-19},
{"a":280.5,"c":-0.988e-19,"u":-3.080e-19},{"a":281.5,"c":-0.891e-19,"u":-2.925e-19},{"a":282.5,"c":-0.800e-19,"u":-2.772e-19},{"a":283.5,"c":-0.715e-19,"u":-2.621e-19},{"a":284.5,"c":-0.637e-19,"u":-2.473e-19},{"a":285.5,"c":-0.565e-19,"u":-2.328e-19},{"a":286.5,"c":-0.498e-19,"u":-2.186e-19},{"a":287.5,"c":-0.436e-19,"u":-2.047e-19},{"a":288.5,"c":-0.381e-19,"u":-1.911e-19},{"a":289.5,"c":-0.330e-19,"u":-1.779e-19},
{"a":290.5,"c":-0.284e-19,"u":-1.651e-19},{"a":291.5,"c":-0.243e-19,"u":-1.526e-19},{"a":292.5,"c":-0.206e-19,"u":-1.406e-19},{"a":293.5,"c":-0.173e-19,"u":-1.289e-19},{"a":294.5,"c":-0.144e-19,"u":-1.177e-19},{"a":295.5,"c":-0.119e-19,"u":-1.070e-19},{"a":296.5,"c":-0.097e-19,"u":-0.967e-19},{"a":297.5,"c":-0.078e-19,"u":-0.868e-19},{"a":298.5,"c":-0.062e-19,"u":-0.774e-19},{"a":299.5,"c":-0.049e-19,"u":-0.685e-19},
{"a":300.5,"c":-0.038e-19,"u":-0.602e-19},{"a":301.5,"c":-0.029e-19,"u":-0.523e-19},{"a":302.5,"c":-0.021e-19,"u":-0.450e-19},{"a":303.5,"c":-0.015e-19,"u":-0.382e-19},{"a":304.5,"c":-0.011e-19,"u":-0.319e-19},{"a":305.5,"c":-0.007e-19,"u":-0.262e-19},{"a":306.5,"c":-0.005e-19,"u":-0.210e-19},{"a":307.5,"c":-0.003e-19,"u":-0.164e-19},{"a":308.5,"c":-0.002e-19,"u":-0.123e-19},{"a":309.5,"c":-0.001e-19,"u":-0.088e-19},
{"a":310.5,"c":0,"u":-0.059e-19},{"a":311.5,"c":0,"u":-0.036e-19},{"a":312.5,"c":0,"u":-0.018e-19},{"a":313.5,"c":0,"u":-0.007e-19},{"a":314.5,"c":0,"u":-0.001e-19},{"a":315.5,"c":0,"u":-0.001e-19},{"a":316.5,"c":0,"u":-0.007e-19},{"a":317.5,"c":0,"u":-0.018e-19},{"a":318.5,"c":0,"u":-0.036e-19},{"a":319.5,"c":0,"u":-0.059e-19},
{"a":320.5,"c":-0.001e-19,"u":-0.088e-19},{"a":321.5,"c":-0.002e-19,"u":-0.123e-19},{"a":322.5,"c":-0.003e-19,"u":-0.164e-19},{"a":323.5,"c":-0.005e-19,"u":-0.210e-19},{"a":324.5,"c":-0.007e-19,"u":-0.262e-19},{"a":325.5,"c":-0.011e-19,"u":-0.319e-19},{"a":326.5,"c":-0.015e-19,"u":-0.382e-19},{"a":327.5,"c":-0.021e-19,"u":-0.450e-19},{"a":328.5,"c":-0.029e-19,"u":-0.523e-19},{"a":329.5,"c":-0.038e-19,"u":-0.602e-19},
{"a":330.5,"c":-0.049e-19,"u":-0.685e-19},{"a":331.5,"c":-0.062e-19,"u":-0.774e-19},{"a":332.5,"c":-0.078e-19,"u":-0.868e-19},{"a":333.5,"c":-0.097e-19,"u":-0.967e-19},{"a":334.5,"c":-0.119e-19,"u":-1.070e-19},{"a":335.5,"c":-0.144e-19,"u":-1.177e-19},{"a":336.5,"c":-0.173e-19,"u":-1.289e-19},{"a":337.5,"c":-0.206e-19,"u":-1.406e-19},{"a":338.5,"c":-0.243e-19,"u":-1.526e-19},{"a":339.5,"c":-0.284e-19,"u":-1.651e-19},
{"a":340.5,"c":-0.330e-19,"u":-1.779e-19},{"a":341.5,"c":-0.381e-19,"u":-1.911e-19},{"a":342.5,"c":-0.436e-19,"u":-2.047e-19},{"a":343.5,"c":-0.498e-19,"u":-2.186e-19},{"a":344.5,"c":-0.565e-19,"u":-2.328e-19},{"a":345.5,"c":-0.637e-19,"u":-2.473e-19},{"a":346.5,"c":-0.715e-19,"u":-2.621e-19},{"a":347.5,"c":-0.800e-19,"u":-2.772e-19},{"a":348.5,"c":-0.891e-19,"u":-2.925e-19},{"a":349.5,"c":-0.988e-19,"u":-3.080e-19},
{"a":350.5,"c":-1.092e-19,"u":-3.237e-19},{"a":351.5,"c":-1.202e-19,"u":-3.396e-19},{"a":352.5,"c":-1.319e-19,"u":-3.558e-19},{"a":353.5,"c":-1.442e-19,"u":-3.720e-19},{"a":354.5,"c":-1.572e-19,"u":-3.884e-19},{"a":355.5,"c":-1.708e-19,"u":-4.049e-19},{"a":356.5,"c":-1.851e-19,"u":-4.215e-19},{"a":357.5,"c":-2.000e-19,"u":-4.381e-19},{"a":358.5,"c":-2.156e-19,"u":-4.549e-19},{"a":359.5,"c":-2.317e-19,"u":-4.716e-19}
]},
"layer":[
{"mark":{"type":"point","shape":"circle","filled":false,"size":49,"strokeWidth":1.8,"opacity":1},
 "encoding":{
  "x":{"field":"a","type":"quantitative","scale":{"domain":[-5.24,361.7],"nice":false,"zero":false},
   "axis":{"orient":"bottom","values":[0,50,100,150,200,250,300,350],"tickSize":8,"labelFontSize":22,"labelBaseline":"alphabetic","labelPadding":26,"labelFlush":false,"labelOverlap":false,"title":"angle (degree)","titleFontSize":29,"titleX":317,"titleY":77,"titleBaseline":"alphabetic","titleAlign":"center"}},
  "y":{"field":"c","type":"quantitative","scale":{"domain":[-1.1e-18,2e-19],"nice":false,"zero":false},
   "axis":{"orient":"left","values":[-1e-18,-8e-19,-6e-19,-4e-19,-2e-19,0,2e-19],"tickSize":9,"labelFontSize":21,"labelPadding":8,"labelFlush":false,"labelOverlap":false,"labelBaseline":"middle",
    "labelExpr":"datum.value > 1e-19 ? '2,0x10⁻¹⁹' : datum.value > -1e-19 ? '0,0' : datum.value > -3e-19 ? '-2,0x10⁻¹⁹' : datum.value > -5e-19 ? '-4,0x10⁻¹⁹' : datum.value > -7e-19 ? '-6,0x10⁻¹⁹' : datum.value > -9e-19 ? '-8,0x10⁻¹⁹' : '-1,0x10⁻¹⁸'",
    "title":"Anisotropy energy (J)","titleFontSize":29,"titleX":-120,"titleY":251,"titleBaseline":"alphabetic","titleAlign":"center","titleAngle":270}},
  "color":{"datum":"Cubic anisotropy","type":"nominal","scale":{"domain":["Cubic anisotropy","Uniaxial anisotropy"],"range":["#ff0000","#0000ff"]},
   "legend":{"orient":"none","legendX":364,"legendY":2.5,"title":null,"padding":0,"symbolType":"M-5.5,0H5.5M-1,0A1,1 0 1,1 1,0A1,1 0 1,1 -1,0M-0.7,0A0.7,0.7 0 1,1 0.7,0A0.7,0.7 0 1,1 -0.7,0M-0.4,0A0.4,0.4 0 1,1 0.4,0A0.4,0.4 0 1,1 -0.4,0M-0.12,0A0.12,0.12 0 1,1 0.12,0A0.12,0.12 0 1,1 -0.12,0","symbolSize":100,"symbolStrokeWidth":1.5,"labelFont":"Liberation Serif","labelFontSize":25,"labelColor":"#111","labelOffset":25,"rowPadding":7,"labelLimit":400,
    "encode":{"symbols":{"update":{"fill":{"field":"value","scale":"color"},"opacity":{"value":1}}}}}}
 }},
{"mark":{"type":"point","shape":"circle","filled":false,"size":49,"strokeWidth":1.8,"opacity":1},
 "encoding":{
  "x":{"field":"a","type":"quantitative","axis":{"orient":"bottom","values":[25,75,125,175,225,275,325],"tickSize":5,"labels":false,"domain":false,"title":null}},
  "y":{"field":"u","type":"quantitative","axis":{"orient":"left","values":[-9e-19,-7e-19,-5e-19,-3e-19,-1e-19,1e-19],"tickSize":5,"labels":false,"domain":false,"title":null}},
  "color":{"datum":"Uniaxial anisotropy","type":"nominal"}
 }},
{"mark":{"type":"point","opacity":0},
 "encoding":{
  "x":{"field":"a","type":"quantitative","axis":{"orient":"top","ticks":false,"labels":false,"domain":true,"title":null}},
  "y":{"field":"u","type":"quantitative","axis":null}
 }}
],
"resolve":{"axis":{"x":"independent","y":"independent"}}
}
